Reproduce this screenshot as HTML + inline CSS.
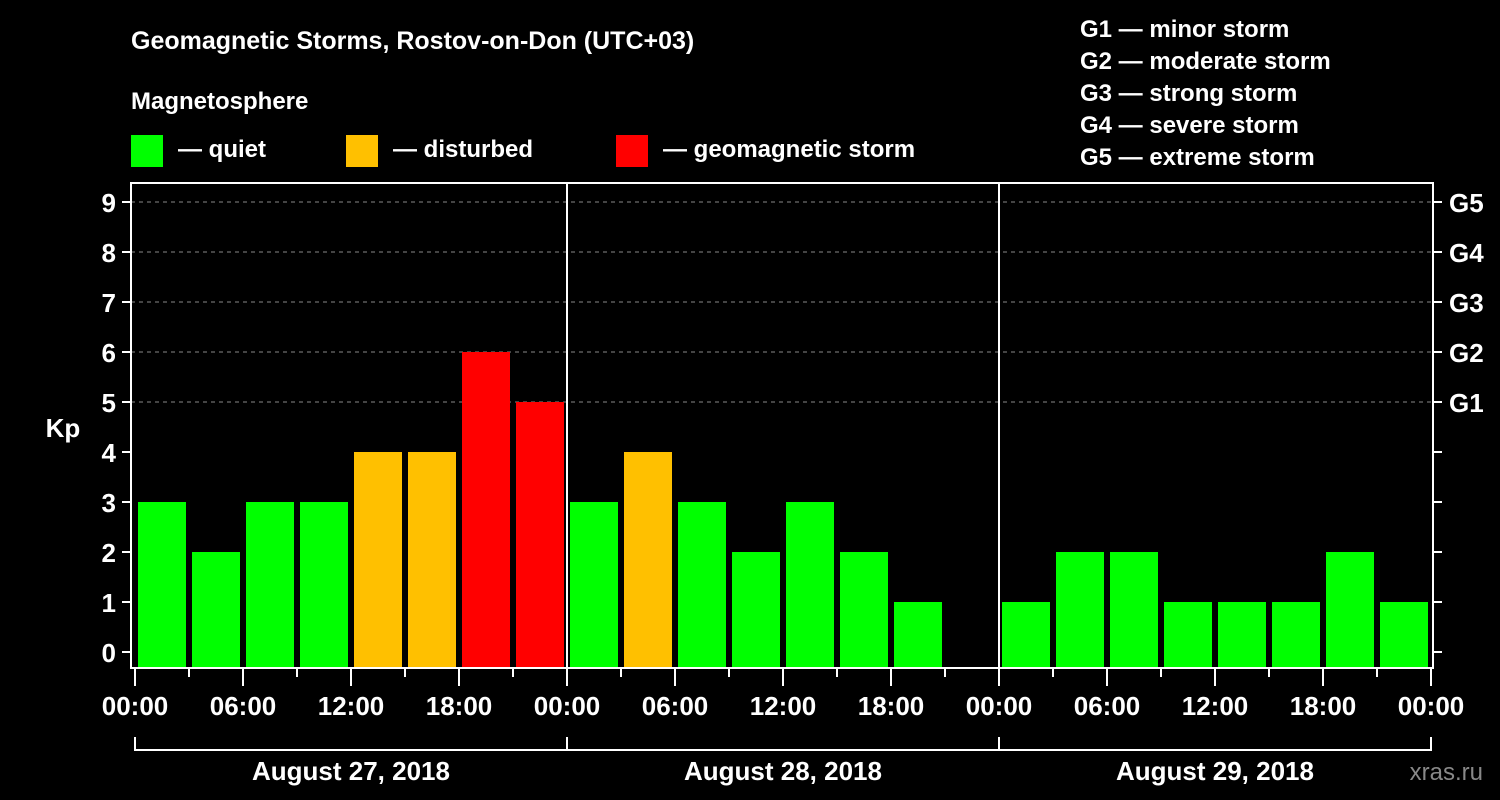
<!DOCTYPE html>
<html><head><meta charset="utf-8"><style>
html,body{margin:0;padding:0;background:#000;}
svg{display:block;font-family:"Liberation Sans",Arial,sans-serif;font-weight:bold;}
</style></head><body>
<svg id="chart" width="1500" height="800" viewBox="0 0 1500 800" xmlns="http://www.w3.org/2000/svg">
<rect x="0" y="0" width="1500" height="800" fill="#000"/>
<text x="131" y="49" fill="#fff" font-size="25">Geomagnetic Storms, Rostov-on-Don (UTC+03)</text>
<text x="131" y="109" fill="#fff" font-size="24">Magnetosphere</text>
<g><rect x="131" y="135" width="32" height="32" fill="#00ff00"/><text x="178" y="157" fill="#fff" font-size="24">— quiet</text></g>
<g><rect x="346" y="135" width="32" height="32" fill="#ffc000"/><text x="393" y="157" fill="#fff" font-size="24">— disturbed</text></g>
<g><rect x="616" y="135" width="32" height="32" fill="#ff0000"/><text x="663" y="157" fill="#fff" font-size="24">— geomagnetic storm</text></g>
<g fill="#fff" font-size="24">
<text x="1080" y="37">G1 — minor storm</text>
<text x="1080" y="69">G2 — moderate storm</text>
<text x="1080" y="101">G3 — strong storm</text>
<text x="1080" y="133">G4 — severe storm</text>
<text x="1080" y="165">G5 — extreme storm</text>
</g>
<text x="63" y="437" fill="#fff" font-size="26" text-anchor="middle">Kp</text>
<text x="1483" y="780" fill="#888" font-size="24" text-anchor="end" font-weight="normal">xras.ru</text>
<g id="grid"></g>
<g id="bars"></g>
<g id="axes"></g>
</svg>
<script>
const kpValues = [3,2,3,3,4,4,6,5, 3,4,3,2,3,2,1,null, 1,2,2,1,1,1,2,1];
const dayLabels = ["August 27, 2018","August 28, 2018","August 29, 2018"];
const timeLabels = ["00:00","06:00","12:00","18:00"];
const yTicks = [0,1,2,3,4,5,6,7,8,9];
const gLabels = ["G1","G2","G3","G4","G5"];
const gLevels = [5,6,7,8,9];

const NS="http://www.w3.org/2000/svg";
const X0=135, DAY=432, SLOT=DAY/8, BOTTOM=668, LEFT=131, RIGHT=1433, TOP=183;
const yS=v=>652-50*v;
const xS=i=>X0+i*SLOT;
function mk(tag,attrs,parent,text){const e=document.createElementNS(NS,tag);for(const k in attrs)e.setAttribute(k,attrs[k]);if(text!==undefined)e.textContent=text;parent.appendChild(e);return e;}
const grid=document.getElementById('grid'),bars=document.getElementById('bars'),axes=document.getElementById('axes');

gLevels.forEach((lv,i)=>{
  const l=mk('line',{x1:LEFT,x2:RIGHT,y1:yS(lv),y2:yS(lv),stroke:'#888','stroke-dasharray':'4,4','stroke-width':1},grid);
  
  
});
kpValues.forEach((v,i)=>{
  if(v===null)return;
  const col=v>=5?'#ff0000':(v>=4?'#ffc000':'#00ff00');
  const r=mk('rect',{x:xS(i)+3,y:yS(v),width:SLOT-6,height:BOTTOM-yS(v),fill:col},bars);
  
  
});
// frame
const fr=mk('rect',{x:LEFT,y:TOP,width:RIGHT-LEFT,height:BOTTOM-TOP,fill:'none',stroke:'#fff','stroke-width':2},axes);


for(let d=1;d<dayLabels.length;d++){
  const l=mk('line',{x1:X0+d*DAY,x2:X0+d*DAY,y1:TOP,y2:BOTTOM,stroke:'#fff','stroke-width':2},axes);
  
  
}
yTicks.forEach(v=>{
  mk('line',{x1:122,x2:LEFT,y1:yS(v),y2:yS(v),stroke:'#fff','stroke-width':2},axes);
  mk('line',{x1:RIGHT,x2:1442,y1:yS(v),y2:yS(v),stroke:'#fff','stroke-width':2},axes);
  const t=mk('text',{x:116,y:yS(v)+10,fill:'#fff','font-size':26,'text-anchor':'end'},axes,String(v));
  
  
});
gLabels.forEach((g,i)=>{
  const t=mk('text',{x:1449,y:yS(gLevels[i])+10,fill:'#fff','font-size':26},axes,g);
  
  
});
for(let i=0;i<=kpValues.length;i++){
  const major=i%2===0;
  mk('line',{x1:xS(i),x2:xS(i),y1:BOTTOM+1,y2:major?686:677,stroke:'#fff','stroke-width':2},axes);
  if(major){
    const t=mk('text',{x:xS(i),y:715,fill:'#fff','font-size':26,'text-anchor':'middle'},axes,timeLabels[(i/2)%4]);
    
    
  }
}
mk('line',{x1:X0,x2:X0+DAY*dayLabels.length,y1:750,y2:750,stroke:'#fff','stroke-width':2},axes);
for(let d=0;d<=dayLabels.length;d++) mk('line',{x1:X0+d*DAY,x2:X0+d*DAY,y1:737,y2:751,stroke:'#fff','stroke-width':2},axes);
dayLabels.forEach((lab,d)=>{
  const t=mk('text',{x:X0+d*DAY+DAY/2,y:780,fill:'#fff','font-size':26,'text-anchor':'middle'},axes,lab);
  
  
});
</script>
</body></html>
